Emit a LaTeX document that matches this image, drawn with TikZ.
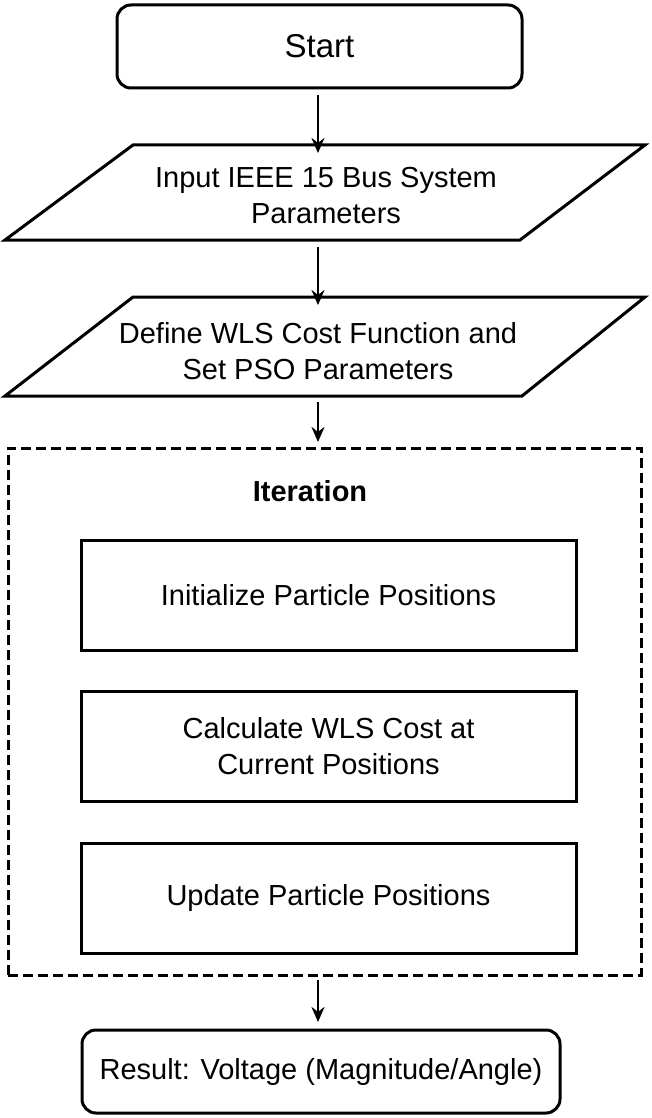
\documentclass[tikz,border=0pt]{standalone}
\usepackage{fontspec}
\setmainfont{Liberation Sans}
\usetikzlibrary{arrows.meta}
\begin{document}
\begin{tikzpicture}[x=1pt,y=-1pt,
  txt/.style={font=\fontsize{29}{36}\selectfont, align=center},
  box/.style={draw, line width=3pt, minimum width=495pt, minimum height=110pt, txt},
  rbox/.style={draw, line width=3pt, rounded corners=14pt, txt},
  arr/.style={-{Stealth[length=15pt,width=13pt]}, line width=2.8pt}]
\useasboundingbox (0,0) rectangle (651,1118);
\node[rbox, minimum width=405pt, minimum height=83pt, font=\fontsize{33}{38}\selectfont] (start) at (319.5,46.5) {Start};
\draw[line width=3pt, line join=miter] (133,145) -- (645,145) -- (520,240) -- (5,240) -- cycle;
\node[txt] (in) at (326,196) {Input IEEE 15 Bus System\\Parameters};
\coordinate (inT) at (318,145);
\draw[line width=3pt] (133,297) -- (645,297) -- (522,396) -- (5,396) -- cycle;
\node[txt] (def) at (318,351) {Define WLS Cost Function and\\Set PSO Parameters};
\coordinate (defT) at (318,297);
\node[draw, dash pattern=on 10pt off 5pt, line width=3pt, minimum width=633pt, minimum height=527pt] (iter) at (324.5,711.5) {};
\node[txt, font=\bfseries\fontsize{29}{36}\selectfont] (lab) at (310,491) {Iteration};
\node[box] (b1) at (328.5,595) {Initialize Particle Positions};
\node[box] (b2) at (328.5,746.5) {Calculate WLS Cost at\\Current Positions};
\node[box] (b3) at (328.5,898) {Update Particle Positions};
\node[rbox, minimum width=478pt, minimum height=83pt] (res) at (321,1071.5) {Result: Voltage (Magnitude/Angle)};
\coordinate (a1) at (318,95); \coordinate (a2) at (318,247); \coordinate (a3) at (318,402); \coordinate (a4) at (318,980);
\coordinate (e3) at (318,442); \coordinate (e4) at (318,1022);
\draw[arr] (a1) -- ([yshift=-8pt]inT);
\draw[arr] (a2) -- ([yshift=-8pt]defT);
\draw[arr] (a3) -- (e3);
\draw[arr] (a4) -- (e4);
\end{tikzpicture}
\end{document}
